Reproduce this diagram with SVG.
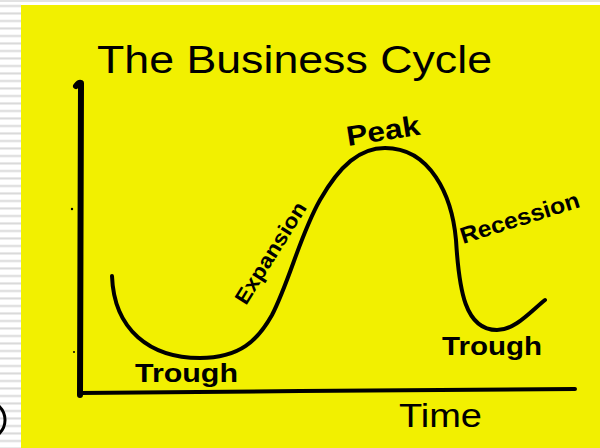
<svg xmlns="http://www.w3.org/2000/svg" width="600" height="448" viewBox="0 0 600 448">
  <defs>
    <pattern id="stripes" x="0" y="0" width="22" height="7.5" patternUnits="userSpaceOnUse">
      <rect width="22" height="7.5" fill="#ffffff"/>
      <rect y="5" width="22" height="2" fill="#d9d9d9"/>
    </pattern>
  </defs>
  <style>
    .ink { fill: none; stroke: #000; stroke-linecap: round; stroke-linejoin: round; }
    .lbl { font-family: "Liberation Sans", "DejaVu Sans", sans-serif; fill: #000; }
    .b { font-weight: bold; }
  </style>
  <rect x="0" y="0" width="600" height="448" fill="#ffffff"/>
  <rect x="0" y="0" width="21" height="448" fill="url(#stripes)"/>
  <rect x="0" y="0" width="600" height="2" fill="#e2e2e2"/>
  <rect x="21" y="5" width="579" height="443" fill="#f2f000"/>
  <circle cx="-14" cy="420" r="19" class="ink" stroke-width="3"/>

  <g id="axes">
    <path class="ink" stroke-width="6" d="M76,86 Q79,82 81,83 L80,395"/>
    <path class="ink" stroke-width="4" d="M80,393 L300,391 L575,389"/>
    <circle cx="72" cy="209" r="1.2" fill="#000"/>
    <circle cx="74" cy="352" r="1" fill="#000"/>
  </g>

  <g id="curve">
    <path class="ink" stroke-width="4" d="M112,276 C114,330 150,358 200,358 C240,358 258,340 272,315 C290,280 300,235 320,200 C340,165 360,148 385,148 C430,148 452,195 456,240 C459,290 465,330 497,330 C515,330 530,312 545,300"/>
  </g>

  <g id="title">
    <text class="lbl" x="97" y="73" font-size="38" textLength="395" lengthAdjust="spacingAndGlyphs">The Business Cycle</text>
  </g>
  <g id="peak">
    <text class="lbl b" font-size="28" transform="translate(348,146) rotate(-9)" textLength="74" lengthAdjust="spacingAndGlyphs">Peak</text>
  </g>
  <g id="recession">
    <text class="lbl b" font-size="23" transform="translate(463,244) rotate(-17.5)" textLength="124" lengthAdjust="spacingAndGlyphs">Recession</text>
  </g>
  <g id="expansion">
    <text class="lbl b" font-size="21" transform="translate(246,306) rotate(-58)" textLength="116" lengthAdjust="spacingAndGlyphs">Expansion</text>
  </g>
  <g id="trough-left">
    <text class="lbl b" x="135" y="382" font-size="25" textLength="103" lengthAdjust="spacingAndGlyphs">Trough</text>
  </g>
  <g id="trough-right">
    <text class="lbl b" x="442" y="355" font-size="25" textLength="100" lengthAdjust="spacingAndGlyphs">Trough</text>
  </g>
  <g id="time">
    <text class="lbl" x="399" y="427" font-size="33" textLength="83" lengthAdjust="spacingAndGlyphs">Time</text>
  </g>
</svg>
